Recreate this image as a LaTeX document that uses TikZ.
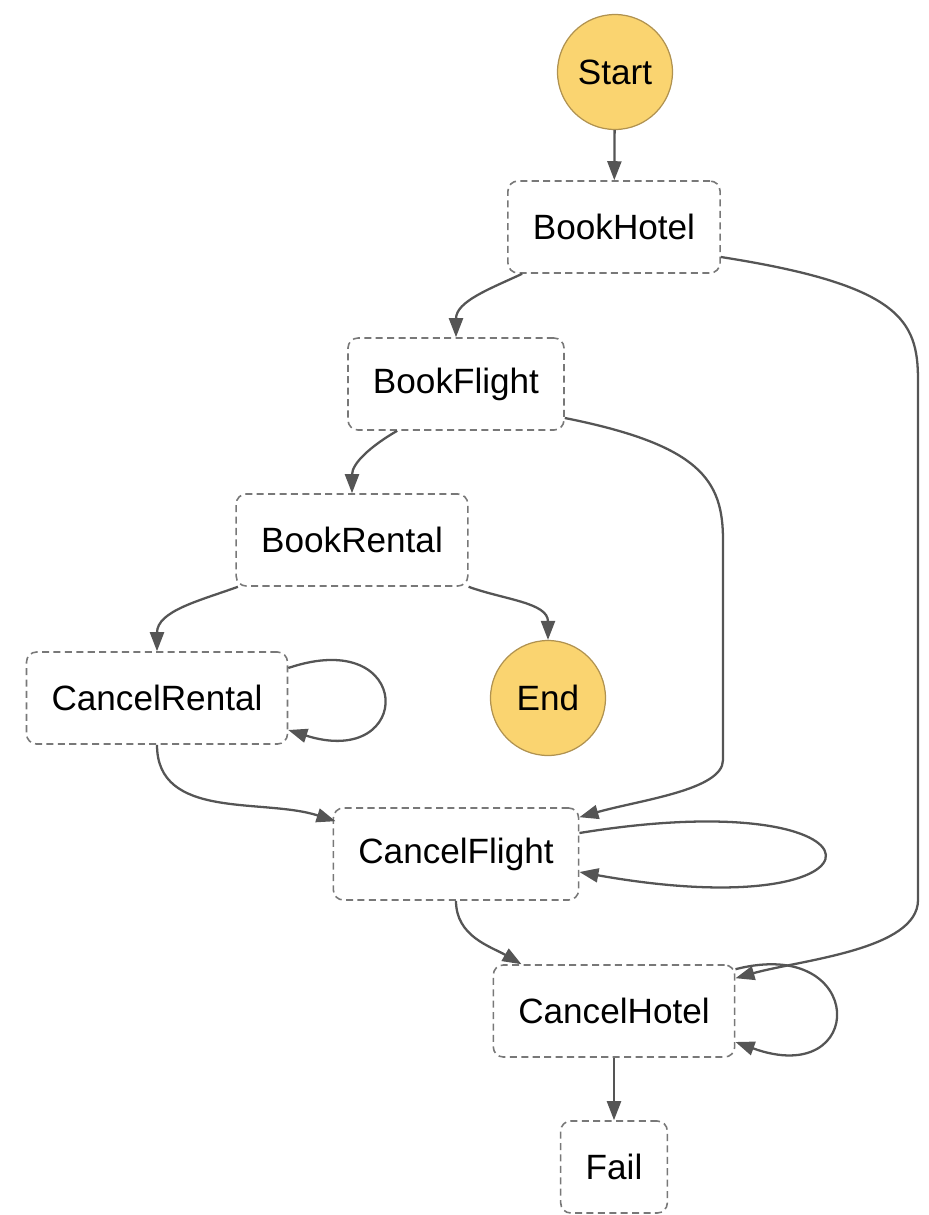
\documentclass[tikz,border=0pt]{standalone}
\usepackage{fontspec}
\setmainfont{Liberation Sans}
\usetikzlibrary{arrows.meta}
\definecolor{stategold}{RGB}{250,212,112}
\definecolor{stateedge}{RGB}{176,146,80}
\definecolor{boxline}{RGB}{120,120,120}
\definecolor{arrowgray}{RGB}{85,85,85}
\begin{document}
\begin{tikzpicture}[x=0.02cm,y=-0.02cm,
    font=\fontsize{20}{24}\selectfont,
    term/.style={circle,draw=stateedge,fill=stategold,line width=0.7pt,minimum size=2.3cm,inner sep=0pt},
    task/.style={draw=boxline,dash pattern=on 4pt off 2.5pt,line width=0.9pt,rounded corners=0.2cm,
                 minimum height=1.84cm,inner xsep=0.5cm},
    edge/.style={draw=arrowgray,line width=1.3pt,-{Triangle[length=0.38cm,width=0.28cm]}}]
   \useasboundingbox (0,0) rectangle (929,1215);
   % states
   \node [term] (start) at (615,72) {Start};
   \node [task] (bookhotel) at (614,227) {BookHotel};
   \node [task] (bookflight) at (456,384) {BookFlight};
   \node [task] (bookrental) at (352,540) {BookRental};
   \node [task] (cancelrental) at (157,698) {CancelRental};
   \node [term] (end) at (548,698) {End};
   \node [task] (cancelflight) at (456,854) {CancelFlight};
   \node [task] (cancelhotel) at (614,1011) {CancelHotel};
   \node [task] (fail) at (614,1167) {Fail};
   % transitions
   \draw [edge] (start) -- (bookhotel);
   \draw [edge] ([xshift=0.3cm]bookhotel.south west) to[out=-155,in=90] (bookflight.north);
   \draw [edge] ([yshift=-0.6cm]bookhotel.east) .. controls (900,285) and (918,320) .. (918,380)
      -- (918,900) .. controls (918,950) and (800,960) .. ([yshift=-0.28cm]cancelhotel.north east);
   \draw [edge] ([xshift=1cm]bookflight.south west) to[out=-150,in=90] (bookrental.north);
   \draw [edge] ([yshift=-0.68cm]bookflight.east) .. controls (700,445) and (723,480) .. (723,540)
      -- (723,760) .. controls (723,790) and (640,800) .. ([yshift=-0.2cm]cancelflight.north east);
   \draw [edge] ([xshift=0.05cm]bookrental.south west) to[out=-160,in=90] (cancelrental.north);
   \draw [edge] (bookrental.south east) to[out=-20,in=90] (end.north);
   \draw [edge] ([yshift=0.6cm]cancelrental.east) .. controls (415,625) and (415,770) .. ([yshift=-0.64cm]cancelrental.east);
   \draw [edge] (cancelrental.south) to[out=-90,in=162] ([xshift=0.06cm,yshift=-0.28cm]cancelflight.north west);
   \draw [edge] ([yshift=0.42cm]cancelflight.east) .. controls (905,780) and (905,930) .. ([yshift=-0.36cm]cancelflight.east);
   \draw [edge] (cancelflight.south) to[out=-90,in=150] ([xshift=0.58cm]cancelhotel.north west);
   \draw [edge] ([yshift=-0.1cm]cancelhotel.north east) .. controls (868,935) and (868,1090) .. ([yshift=-0.62cm]cancelhotel.east);
   \draw [edge] (cancelhotel) -- (fail);
\end{tikzpicture}
\end{document}
